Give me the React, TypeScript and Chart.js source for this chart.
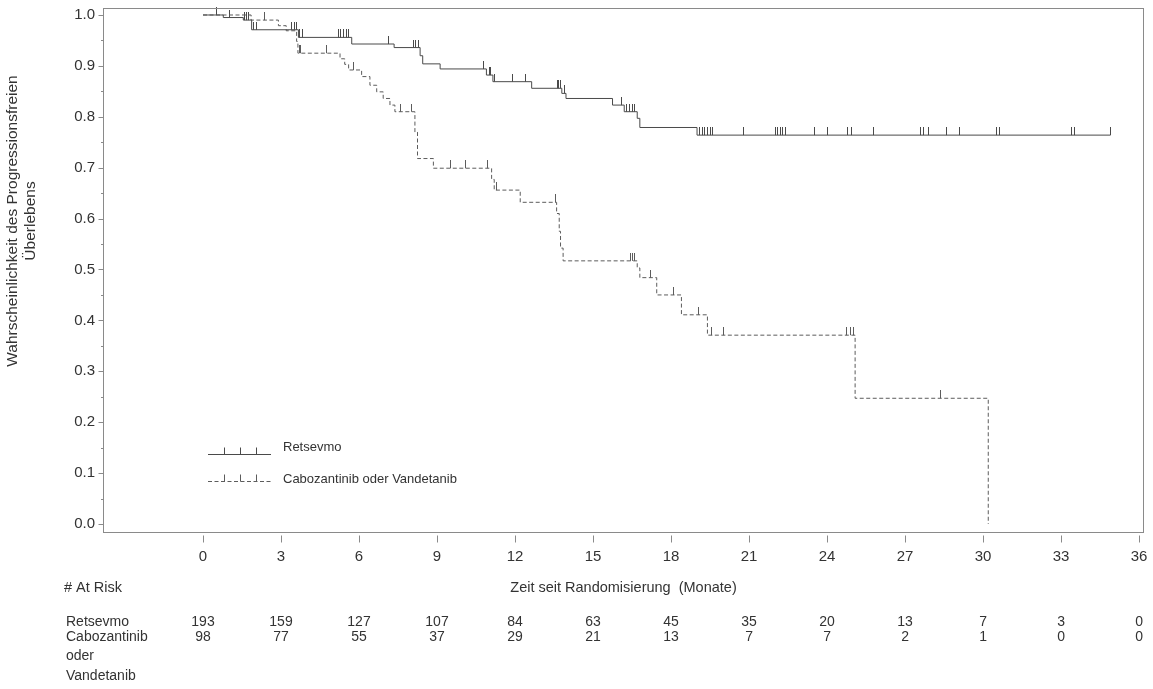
import { useEffect, useRef } from "react"
import { Chart, registerables } from "chart.js"

Chart.register(...registerables)

const FONT = "'Liberation Sans', Arial, sans-serif"
Chart.defaults.font.family = FONT

// axis ticks
const xTicks = [0, 3, 6, 9, 12, 15, 18, 21, 24, 27, 30, 33, 36]
const yMajorTicks = [0, 0.1, 0.2, 0.3, 0.4, 0.5, 0.6, 0.7, 0.8, 0.9, 1.0]
const yMinorTicks = [0.05, 0.15, 0.25, 0.35, 0.45, 0.55, 0.65, 0.75, 0.85, 0.95]

const seriesNames = ["Retsevmo", "Cabozantinib oder Vandetanib"]
const yTitleLines = ["Wahrscheinlichkeit des Progressionsfreien", "Überlebens"]
const xTitle = "Zeit seit Randomisierung  (Monate)"
const atRiskTitle = "# At Risk"

// Kaplan-Meier steps: event time (months) and survival after it
const retsevmoTimes = [0, 0.78, 1.55, 1.87, 3.67, 5.72, 7.35, 8.35, 8.45, 9.12, 10.9, 11.15, 12.64, 13.8, 13.96, 15.75, 16.2, 16.7, 16.8, 19.0]
const retsevmoSurvival = [1.0, 0.995, 0.99, 0.971, 0.956, 0.943, 0.936, 0.92, 0.904, 0.894, 0.882, 0.869, 0.856, 0.846, 0.836, 0.823, 0.81, 0.797, 0.779, 0.764]
const retsevmoCensored = [
  0.53, 1.0, 1.6, 1.68, 1.75, 1.95, 2.05, 3.4, 3.5, 3.58, 3.72, 3.82, 5.2, 5.3, 5.4, 5.5, 5.6, 7.12, 8.1, 8.18, 8.28,
  10.8, 11.0, 11.06, 11.2, 11.9, 12.4, 13.62, 13.68, 13.74, 13.9, 16.1, 16.3, 16.4, 16.5, 16.6,
  19.1, 19.2, 19.3, 19.4, 19.5, 19.6, 20.8, 22.0, 22.1, 22.2, 22.3, 22.4, 23.5, 24.0, 24.8, 24.95, 25.8,
  27.6, 27.7, 27.9, 28.6, 29.1, 30.5, 30.65, 33.4, 33.5, 34.9,
]

const caboTimes = [0, 1.85, 2.9, 3.2, 3.6, 3.65, 5.27, 5.45, 5.6, 6.1, 6.42, 6.68, 6.93, 7.19, 7.38, 8.15, 8.25, 8.86, 11.1, 11.2, 12.2, 13.6, 13.7, 13.75, 13.85, 16.7, 16.8, 17.45, 18.4, 19.4, 25.08, 30.2]
const caboSurvival = [1.0, 0.99, 0.979, 0.969, 0.948, 0.925, 0.914, 0.903, 0.892, 0.879, 0.862, 0.849, 0.836, 0.823, 0.81, 0.77, 0.718, 0.699, 0.677, 0.656, 0.632, 0.61, 0.575, 0.542, 0.517, 0.503, 0.484, 0.45, 0.411, 0.371, 0.247, 0]
const caboCensored = [2.38, 3.7, 3.75, 4.76, 5.8, 7.6, 8.03, 9.5, 10.1, 10.96, 11.3, 13.55, 16.45, 16.52, 16.6, 17.2, 18.1, 19.06, 19.56, 20.0, 24.75, 24.9, 25.0, 28.35]

// number at risk at each x tick
const retsevmoAtRisk = [193, 159, 127, 107, 84, 63, 45, 35, 20, 13, 7, 3, 0]
const caboAtRisk = [98, 77, 55, 37, 29, 21, 13, 7, 7, 2, 1, 0, 0]
const retsevmoRowLabel = ["Retsevmo"]
const caboRowLabel = ["Cabozantinib", "oder", "Vandetanib"]

const SOLID_COLOR = "#4a4a4a"
const DASH_COLOR = "#5c5c5c"
const FRAME_COLOR = "#8a8a8a"
const TEXT_COLOR = "#333333"
const DASH = [4, 2.5]

function survivalAt(times: number[], surv: number[], t: number) {
  let s = surv[0]
  for (let i = 0; i < times.length; i++) if (times[i] <= t) s = surv[i]
  return s
}

function curvePoints(times: number[], surv: number[], censored: number[]) {
  const pts = times.map((t, i) => ({ x: t, y: surv[i] }))
  const lastCensor = Math.max(...censored)
  if (lastCensor > times[times.length - 1]) pts.push({ x: lastCensor, y: surv[surv.length - 1] })
  return pts
}

// small vertical tick that sits on top of the curve
function makeCensorMark(color: string) {
  const c = document.createElement("canvas")
  c.width = 1
  c.height = 16
  const g = c.getContext("2d")
  if (g) {
    g.fillStyle = color
    g.fillRect(0, 0, 1, 8)
  }
  return c
}

// keep the plot box where it is, whatever the tick labels want
function noScalePadding(scale: any) {
  scale.paddingLeft = 0
  scale.paddingRight = 0
  scale.paddingTop = 0
  scale.paddingBottom = 0
}

const decorPlugin = {
  id: "kmDecor",
  afterDraw(chart: any) {
    const { ctx, chartArea: a, scales } = chart
    const xs = scales.x
    const ys = scales.y
    ctx.save()

    // frame
    ctx.strokeStyle = FRAME_COLOR
    ctx.lineWidth = 1
    const l = Math.round(a.left) + 0.5
    const r = Math.round(a.right) - 0.5
    const t = Math.round(a.top) + 0.5
    const b = Math.round(a.bottom) - 0.5
    ctx.strokeRect(l, t, r - l, b - t)

    // tick marks
    ctx.beginPath()
    xTicks.forEach((v) => {
      const px = Math.round(xs.getPixelForValue(v)) + 0.5
      ctx.moveTo(px, b + 3)
      ctx.lineTo(px, b + 10)
    })
    yMajorTicks.forEach((v) => {
      const py = Math.round(ys.getPixelForValue(v)) + 0.5
      ctx.moveTo(l - 5, py)
      ctx.lineTo(l, py)
    })
    yMinorTicks.forEach((v) => {
      const py = Math.round(ys.getPixelForValue(v)) + 0.5
      ctx.moveTo(l - 2.5, py)
      ctx.lineTo(l, py)
    })
    ctx.stroke()

    // legend inside the plot
    const legendRows = [
      { name: seriesNames[0], color: SOLID_COLOR, dash: [] as number[], lineY: a.bottom - 79, textY: a.bottom - 86 },
      { name: seriesNames[1], color: DASH_COLOR, dash: DASH, lineY: a.bottom - 52, textY: a.bottom - 54 },
    ]
    const lx0 = a.left + 105
    const lx1 = a.left + 168
    legendRows.forEach((row) => {
      const y = Math.round(row.lineY) + 0.5
      ctx.strokeStyle = row.color
      ctx.setLineDash(row.dash)
      ctx.beginPath()
      ctx.moveTo(lx0, y)
      ctx.lineTo(lx1, y)
      ctx.stroke()
      ctx.setLineDash([])
      ctx.beginPath()
      ;[16, 32, 48].forEach((dx) => {
        ctx.moveTo(lx0 + dx + 0.5, y)
        ctx.lineTo(lx0 + dx + 0.5, y - 7)
      })
      ctx.stroke()
      ctx.fillStyle = TEXT_COLOR
      ctx.font = `13px ${FONT}`
      ctx.textBaseline = "middle"
      ctx.textAlign = "left"
      ctx.fillText(row.name, lx0 + 75, row.textY)
    })

    // y axis title
    ctx.fillStyle = TEXT_COLOR
    ctx.font = `15.5px ${FONT}`
    ctx.textAlign = "center"
    ctx.textBaseline = "middle"
    ctx.save()
    ctx.translate(13, 221)
    ctx.rotate(-Math.PI / 2)
    ctx.fillText(yTitleLines[0], 0, 0)
    ctx.fillText(yTitleLines[1], 0, 18)
    ctx.restore()

    // x axis title and at-risk table
    ctx.font = `14.5px ${FONT}`
    ctx.textAlign = "center"
    ctx.fillText(xTitle, (a.left + a.right) / 2, 588)
    ctx.textAlign = "left"
    ctx.fillText(atRiskTitle, 64, 588)

    ctx.font = `14px ${FONT}`
    retsevmoRowLabel.forEach((s, i) => ctx.fillText(s, 66, 622 + i * 19))
    caboRowLabel.forEach((s, i) => ctx.fillText(s, 66, 637 + i * 19.5))
    ctx.textAlign = "center"
    xTicks.forEach((v, i) => {
      const px = xs.getPixelForValue(v)
      ctx.fillText(String(retsevmoAtRisk[i]), px, 622)
      ctx.fillText(String(caboAtRisk[i]), px, 637)
    })

    ctx.restore()
  },
}

export default function App() {
  const canvasRef = useRef<HTMLCanvasElement>(null)
  const chartRef = useRef<Chart | null>(null)

  useEffect(() => {
    if (!canvasRef.current) return
    if (chartRef.current) chartRef.current.destroy()
    const ctx = canvasRef.current.getContext("2d")
    if (!ctx) return

    const solidMark = makeCensorMark(SOLID_COLOR)
    const dashMark = makeCensorMark(DASH_COLOR)

    chartRef.current = new Chart(ctx, {
      type: "line",
      data: {
        datasets: [
          {
            label: seriesNames[0],
            data: curvePoints(retsevmoTimes, retsevmoSurvival, retsevmoCensored),
            borderColor: SOLID_COLOR,
            borderWidth: 1,
            stepped: "before",
            pointRadius: 0,
            fill: false,
          },
          {
            label: seriesNames[1],
            data: curvePoints(caboTimes, caboSurvival, caboCensored),
            borderColor: DASH_COLOR,
            borderWidth: 1,
            borderDash: DASH,
            stepped: "before",
            pointRadius: 0,
            fill: false,
          },
          {
            label: seriesNames[0] + " zensiert",
            data: retsevmoCensored.map((t) => ({ x: t, y: survivalAt(retsevmoTimes, retsevmoSurvival, t) })),
            showLine: false,
            pointStyle: solidMark,
            pointRadius: 3,
            clip: false,
          },
          {
            label: seriesNames[1] + " zensiert",
            data: caboCensored.map((t) => ({ x: t, y: survivalAt(caboTimes, caboSurvival, t) })),
            showLine: false,
            pointStyle: dashMark,
            pointRadius: 3,
            clip: false,
          },
        ] as any,
      },
      options: {
        animation: false,
        responsive: true,
        maintainAspectRatio: false,
        events: [],
        layout: { padding: { top: 8, right: 9, left: 0, bottom: 0 } },
        plugins: { legend: { display: false }, tooltip: { enabled: false } },
        scales: {
          x: {
            type: "linear",
            min: -3.846,
            max: 36.19,
            grid: { display: false, drawTicks: false },
            border: { display: false },
            afterBuildTicks: (scale: any) => {
              scale.ticks = xTicks.map((v) => ({ value: v }))
            },
            afterFit: (scale: any) => {
              scale.height = 156
              noScalePadding(scale)
            },
            ticks: {
              autoSkip: false,
              maxRotation: 0,
              padding: 16,
              color: TEXT_COLOR,
              font: { size: 15, lineHeight: 1 },
              callback: (v: any) => String(v),
            },
          },
          y: {
            type: "linear",
            min: -0.01768,
            max: 1.01375,
            grid: { display: false, drawTicks: false },
            border: { display: false },
            afterBuildTicks: (scale: any) => {
              scale.ticks = yMajorTicks.map((v) => ({ value: v }))
            },
            afterFit: (scale: any) => {
              scale.width = 103
              noScalePadding(scale)
            },
            ticks: {
              padding: 8,
              color: TEXT_COLOR,
              font: { size: 15, lineHeight: 1 },
              callback: (v: any) => Number(v).toFixed(1),
            },
          },
        },
      },
      plugins: [decorPlugin],
    })

    return () => {
      if (chartRef.current) {
        chartRef.current.destroy()
        chartRef.current = null
      }
    }
  }, [])

  return (
    <div style={{ position: "fixed", left: 0, top: 0, width: 1153, height: 689, background: "#ffffff" }}>
      <canvas ref={canvasRef} />
    </div>
  )
}
